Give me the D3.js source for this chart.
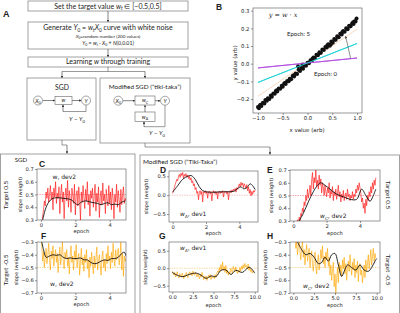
<!DOCTYPE html>
<html>
<head>
<meta charset="utf-8">
<script src="https://cdn.jsdelivr.net/npm/d3@7"></script>
<style>
body { margin: 0; background: #fff; }
svg { display: block; }
text { font-family: "DejaVu Sans", sans-serif; fill: #222; }
.flow text { font-family: Lato, "Open Sans", sans-serif; }
</style>
</head>
<body>
<script>
// ---- panel B: regression data ----
const bTicksX = [-1, -0.5, 0, 0.5, 1]
const bTicksY = [-0.2, -0.1, 0, 0.1, 0.2, 0.3]
const pointsX = [-1.00,-0.98,-0.95,-0.93,-0.90,-0.87,-0.85,-0.82,-0.80,-0.77,-0.74,-0.72,-0.69,-0.66,-0.64,-0.61,-0.58,-0.55,-0.52,-0.50,-0.47,-0.44,-0.41,-0.38,-0.36,-0.33,-0.30,-0.27,-0.24,-0.21,-0.18,-0.15,-0.12,-0.09,-0.06,-0.03,0.00,0.03,0.06,0.09,0.12,0.15,0.18,0.21,0.24,0.27,0.30,0.33,0.36,0.39,0.42,0.45,0.48,0.51,0.54,0.57,0.60,0.63,0.66,0.69,0.72,0.75,0.78,0.81,0.84,0.87,0.90,0.93,0.95,0.97,0.99,-0.19,-0.10,0.47,-0.96,-0.78,-0.62,-0.45,-0.28,0.10,0.25,0.40,0.55,0.70,0.85,0.92]
const pointsY = [-0.245,-0.252,-0.232,-0.240,-0.221,-0.225,-0.205,-0.210,-0.195,-0.200,-0.180,-0.187,-0.168,-0.170,-0.155,-0.158,-0.140,-0.142,-0.125,-0.130,-0.112,-0.115,-0.098,-0.100,-0.085,-0.088,-0.070,-0.072,-0.055,-0.058,-0.035,-0.042,-0.025,-0.028,-0.010,-0.012,0.005,0.003,0.020,0.018,0.035,0.032,0.050,0.048,0.065,0.062,0.080,0.078,0.095,0.092,0.110,0.102,0.125,0.118,0.140,0.135,0.155,0.150,0.170,0.165,0.185,0.180,0.200,0.195,0.215,0.212,0.228,0.225,0.240,0.238,0.255,-0.015,-0.005,0.108,-0.236,-0.198,-0.150,-0.108,-0.066,0.028,0.060,0.104,0.136,0.178,0.210,0.234]
const fitSlopes = [0.028, 0.11, 0.19, 0.25]
const fitOffsets = [0.004, 0.004, 0.006, 0.0]
const arrowFrom = [0.87, 0.03]
const arrowTo = [0.77, 0.155]

// ---- panels C-H: weight traces (5 epochs: step 0.05, 10 epochs: step 0.1) ----
const ticks5 = [0, 2, 4]
const ticks10 = [0, 2.5, 5, 7.5, 10]

const cRed = [0.22,0.28,0.33,0.38,0.45,0.41,0.52,0.47,0.55,0.44,
  0.50,0.57,0.46,0.52,0.38,0.55,0.48,0.60,0.43,0.51,
  0.47,0.56,0.35,0.50,0.58,0.44,0.52,0.31,0.49,0.55,
  0.45,0.61,0.40,0.53,0.47,0.36,0.55,0.50,0.43,0.58,
  0.34,0.49,0.53,0.41,0.56,0.46,0.30,0.52,0.44,0.57,
  0.48,0.39,0.54,0.45,0.60,0.42,0.50,0.33,0.53,0.47,
  0.55,0.40,0.49,0.58,0.37,0.51,0.44,0.56,0.32,0.48,
  0.53,0.42,0.59,0.45,0.50,0.35,0.54,0.46,0.41,0.57,
  0.43,0.52,0.38,0.55,0.47,0.31,0.50,0.44,0.58,0.40,
  0.53,0.46,0.36,0.54,0.42,0.49,0.56,0.43,0.47,0.45]
const cSmooth = [[0.1,0.30],[0.25,0.38],[0.45,0.44],[0.7,0.47],[1.0,0.475],[1.3,0.47],[1.6,0.465],[1.8,0.455],[2.0,0.43],[2.15,0.42],[2.35,0.44],[2.6,0.45],[2.9,0.44],[3.1,0.435],[3.3,0.43],[3.5,0.42],[3.7,0.43],[3.9,0.435],[4.1,0.42],[4.3,0.425],[4.5,0.42],[4.7,0.44],[4.9,0.45]]

const fOrange = [-0.28,-0.33,-0.45,-0.38,-0.50,-0.42,-0.35,-0.47,-0.40,-0.31,
  -0.44,-0.52,-0.37,-0.43,-0.33,-0.49,-0.41,-0.36,-0.46,-0.39,
  -0.54,-0.42,-0.34,-0.48,-0.40,-0.30,-0.45,-0.51,-0.38,-0.43,
  -0.36,-0.49,-0.42,-0.55,-0.40,-0.33,-0.46,-0.41,-0.52,-0.37,
  -0.44,-0.32,-0.50,-0.43,-0.39,-0.56,-0.45,-0.35,-0.48,-0.42,
  -0.53,-0.40,-0.46,-0.36,-0.51,-0.44,-0.58,-0.42,-0.49,-0.38,
  -0.47,-0.55,-0.41,-0.50,-0.43,-0.34,-0.52,-0.45,-0.40,-0.48,
  -0.56,-0.42,-0.37,-0.50,-0.44,-0.53,-0.39,-0.47,-0.33,-0.45,
  -0.41,-0.51,-0.38,-0.46,-0.31,-0.43,-0.49,-0.36,-0.44,-0.40,
  -0.35,-0.48,-0.42,-0.30,-0.52,-0.39,-0.57,-0.41,-0.45,-0.43]
const fSmooth = [[0.05,-0.30],[0.15,-0.36],[0.3,-0.42],[0.5,-0.41],[0.7,-0.40],[0.9,-0.405],[1.1,-0.40],[1.3,-0.42],[1.5,-0.43],[1.7,-0.425],[1.9,-0.43],[2.1,-0.43],[2.3,-0.425],[2.5,-0.44],[2.7,-0.44],[2.9,-0.46],[3.1,-0.47],[3.3,-0.465],[3.5,-0.45],[3.7,-0.44],[3.9,-0.445],[4.1,-0.43],[4.3,-0.43],[4.5,-0.42],[4.7,-0.39],[4.85,-0.38],[4.95,-0.41]]

const dRed = [0.05,0.12,0.20,0.28,0.35,0.42,0.38,0.50,0.55,0.47,
  0.58,0.52,0.60,0.45,0.55,0.50,0.57,0.48,0.53,0.44,
  0.50,0.40,0.46,0.33,0.38,0.25,0.30,0.15,0.20,0.05,
  0.10,-0.12,0.08,0.12,0.02,0.10,-0.18,0.09,0.06,0.12,
  0.04,0.10,-0.08,0.08,0.11,0.03,0.09,-0.15,0.07,0.12,
  0.05,0.10,0.02,0.09,-0.10,0.08,0.11,0.04,0.10,0.06,
  0.12,-0.05,0.09,0.07,0.11,0.03,0.10,-0.12,0.08,0.12,
  0.06,0.14,0.10,0.16,0.12,0.18,0.08,0.20,0.15,0.24,
  0.30,0.22,0.34,0.26,0.32,0.20,0.30,0.25,0.18,0.28,
  0.12,0.22,0.05,0.15,-0.02,0.10,0.02,0.12,0.08,0.14]
const dSmooth = [[0,0.08],[0.3,0.25],[0.6,0.42],[0.9,0.5],[1.1,0.52],[1.3,0.45],[1.5,0.3],[1.7,0.16],[1.9,0.1],[2.2,0.08],[2.6,0.08],[3.0,0.09],[3.4,0.09],[3.7,0.11],[3.9,0.18],[4.1,0.22],[4.25,0.17],[4.45,0.2],[4.65,0.3],[4.8,0.25],[4.95,0.15]]

const eRed = [0.25,0.28,0.22,0.30,0.26,0.31,0.27,0.33,0.30,0.36,
  0.34,0.40,0.37,0.45,0.42,0.50,0.46,0.55,0.48,0.52,
  0.58,0.50,0.62,0.68,0.55,0.64,0.60,0.70,0.57,0.62,
  0.55,0.66,0.58,0.63,0.52,0.60,0.56,0.50,0.58,0.53,
  0.49,0.56,0.52,0.60,0.48,0.54,0.51,0.57,0.46,0.53,
  0.50,0.55,0.47,0.52,0.58,0.49,0.53,0.45,0.51,0.48,
  0.54,0.46,0.50,0.52,0.47,0.55,0.49,0.51,0.46,0.50,
  0.48,0.53,0.47,0.51,0.49,0.55,0.52,0.58,0.54,0.60,
  0.56,0.52,0.45,0.48,0.40,0.44,0.36,0.47,0.42,0.50,
  0.46,0.53,0.49,0.57,0.52,0.60,0.55,0.62,0.58,0.64]
const eSmooth = [[0.3,0.29],[0.6,0.36],[0.9,0.45],[1.2,0.53],[1.45,0.58],[1.65,0.6],[1.9,0.58],[2.2,0.55],[2.6,0.51],[3.0,0.49],[3.4,0.47],[3.8,0.47],[4.1,0.55],[4.35,0.5],[4.6,0.455],[4.8,0.5],[4.95,0.55]]

const gOrange = [-0.08,-0.15,-0.20,-0.12,-0.25,-0.18,-0.10,-0.22,-0.28,-0.16,
  -0.20,-0.26,-0.14,-0.22,-0.30,-0.19,-0.24,-0.12,-0.21,-0.27,
  -0.15,-0.10,-0.18,-0.13,-0.22,-0.08,-0.16,-0.20,-0.12,-0.18,
  -0.25,-0.15,-0.22,-0.30,-0.18,-0.26,-0.12,-0.20,-0.33,-0.24,
  -0.30,-0.22,-0.35,-0.26,-0.20,-0.28,-0.18,-0.32,-0.24,-0.27,
  -0.22,-0.30,-0.18,-0.26,-0.15,-0.08,-0.12,0.02,-0.10,0.10,
  -0.04,0.18,-0.06,0.05,-0.12,0.08,-0.15,-0.05,-0.20,-0.10,
  -0.16,0.00,-0.08,-0.14,0.05,-0.02,-0.10,0.04,-0.08,-0.15,
  -0.05,-0.12,0.02,-0.09,0.06,-0.03,0.10,0.00,0.14,0.04,
  0.08,-0.02,0.12,-0.06,0.03,-0.10,-0.04,-0.14,-0.08,-0.12]
const gSmooth = [[0,-0.12],[0.6,-0.2],[1.3,-0.24],[2.0,-0.18],[2.9,-0.14],[3.5,-0.2],[4.1,-0.29],[4.7,-0.22],[5.3,-0.24],[5.9,-0.06],[6.5,-0.05],[7.1,-0.18],[7.7,-0.06],[8.5,-0.12],[9.3,0.03],[9.7,-0.04],[10,-0.14]]

const hOrange = [-0.22,-0.30,-0.26,-0.35,-0.30,-0.40,-0.33,-0.28,-0.38,-0.44,
  -0.34,-0.30,-0.42,-0.36,-0.48,-0.38,-0.32,-0.45,-0.40,-0.35,
  -0.50,-0.42,-0.37,-0.47,-0.53,-0.44,-0.38,-0.49,-0.55,-0.45,
  -0.40,-0.52,-0.46,-0.36,-0.43,-0.33,-0.47,-0.41,-0.50,-0.38,
  -0.44,-0.35,-0.49,-0.42,-0.56,-0.48,-0.60,-0.52,-0.46,-0.65,
  -0.55,-0.70,-0.58,-0.50,-0.62,-0.46,-0.54,-0.48,-0.57,-0.44,
  -0.51,-0.42,-0.55,-0.47,-0.60,-0.50,-0.45,-0.53,-0.40,-0.49,
  -0.56,-0.46,-0.52,-0.43,-0.58,-0.48,-0.54,-0.45,-0.61,-0.50,
  -0.47,-0.56,-0.52,-0.62,-0.55,-0.48,-0.58,-0.44,-0.53,-0.47,
  -0.40,-0.51,-0.44,-0.36,-0.48,-0.41,-0.35,-0.45,-0.39,-0.43]
const hSmooth = [[0.5,-0.30],[1.0,-0.36],[1.5,-0.40],[2.0,-0.39],[2.5,-0.42],[3.0,-0.47],[3.4,-0.46],[3.8,-0.42],[4.2,-0.45],[4.6,-0.40],[5.0,-0.39],[5.4,-0.48],[5.8,-0.57],[6.1,-0.53],[6.5,-0.48],[7.0,-0.50],[7.5,-0.52],[8.0,-0.48],[8.5,-0.52],[9.0,-0.53],[9.4,-0.50],[9.8,-0.45],[10,-0.43]]

const width = 400
const height = 313
const RED = '#ff1010'
const ORANGE = '#ffa500'
const fitColors = ['#b34fe0', '#22d3d6', '#f7bf93', '#d42a1e']

const svg = d3.select('body').append('svg')
  .attr('width', width)
  .attr('height', height)

const defs = svg.append('defs')
defs.append('marker')
  .attr('id', 'arr')
  .attr('viewBox', '0 0 10 10')
  .attr('refX', 9).attr('refY', 5)
  .attr('markerWidth', 4).attr('markerHeight', 4)
  .attr('orient', 'auto')
  .append('path').attr('d', 'M0,0L10,5L0,10z').attr('fill', '#333')

// text with italic / subscript pieces
const rich = (g, x, y, parts, size, anchor) => {
  const t = g.append('text')
    .attr('x', x).attr('y', y)
    .attr('font-size', size)
    .attr('text-anchor', anchor || 'middle')
  let shift = 0
  parts.forEach(p => {
    const flags = p[1] || ''
    const s = t.append('tspan').text(p[0])
    const want = flags.includes('s') ? size * 0.25 : 0
    if (want !== shift) { s.attr('dy', want - shift); shift = want }
    if (flags.includes('s')) s.attr('font-size', size * 0.68)
    if (flags.includes('i')) s.attr('font-style', 'italic')
  })
  return t
}

// ---------------- panel A: flow chart ----------------
const flow = svg.append('g').attr('class', 'flow')
const box = (x, y, w, h) => flow.append('rect')
  .attr('x', x).attr('y', y).attr('width', w).attr('height', h)
  .attr('fill', '#fff').attr('stroke', '#8a8a8a').attr('stroke-width', 0.8)
const arrow = (pts) => flow.append('path')
  .attr('d', d3.line()(pts))
  .attr('fill', 'none').attr('stroke', '#333').attr('stroke-width', 0.6)
  .attr('marker-end', 'url(#arr)')
const seg = (pts) => flow.append('path')
  .attr('d', d3.line()(pts))
  .attr('fill', 'none').attr('stroke', '#555').attr('stroke-width', 0.6)

// outer group boxes for lower panels
svg.append('rect').attr('x', 0.5).attr('y', 154).attr('width', 134.5).attr('height', 170)
  .attr('fill', 'none').attr('stroke', '#8a8a8a').attr('stroke-width', 0.8)
svg.append('rect').attr('x', 140).attr('y', 155).attr('width', 259.5).attr('height', 170)
  .attr('fill', 'none').attr('stroke', '#8a8a8a').attr('stroke-width', 0.8)

flow.append('text').attr('x', 3).attr('y', 17).attr('font-size', 9)
  .attr('font-weight', 'bold').style('font-family', 'Liberation Sans, Arial, sans-serif').text('A')

box(28, 1, 160, 10)
rich(flow, 108, 8.5, [['Set the target value '], ['w', 'i'], ['t', 'si'], [' ∈ [−0.5,0.5]']], 7)
arrow([[108, 11], [108, 22]])

box(28, 22, 160, 27)
rich(flow, 108, 29.8, [['Generate '], ['Y', 'i'], ['0', 's'], [' = '], ['w', 'i'], ['t', 'si'], ['X', 'i'], ['0', 's'], [' curve with white noise']], 7)
rich(flow, 108, 37.6, [['X', 'i'], ['0', 's'], ['=random number (200 values)']], 4.6)
rich(flow, 108, 44.6, [['Y', 'i'], ['0', 's'], [' = '], ['w', 'i'], ['t', 'si'], [' · '], ['X', 'i'], ['0', 's'], [' + '], ['N', 'i'], ['(0,0.01)']], 5.2)
arrow([[108, 49], [108, 57]])

box(28, 57, 160, 10)
rich(flow, 108, 64.4, [['Learning '], ['w', 'i'], [' through training']], 7)
seg([[108, 67], [108, 71.5]])
seg([[62, 71.5], [145, 71.5]])
arrow([[62, 71.5], [62, 78]])
arrow([[145, 71.5], [145, 78]])

// SGD box
box(27, 78, 69, 62)
flow.append('text').attr('x', 62).attr('y', 89.5).attr('font-size', 6.8).attr('text-anchor', 'middle').text('SGD')
const node = (cx, cy, parts) => {
  flow.append('circle').attr('cx', cx).attr('cy', cy).attr('r', 4.5)
    .attr('fill', '#fff').attr('stroke', '#666').attr('stroke-width', 0.6)
  rich(flow, cx, cy + 2, parts, 5.5)
}
const wbox = (x, y, w, h, parts) => {
  flow.append('rect').attr('x', x).attr('y', y).attr('width', w).attr('height', h)
    .attr('fill', '#fff').attr('stroke', '#666').attr('stroke-width', 0.6)
  rich(flow, x + w / 2, y + h / 2 + 1.8, parts, 5.3)
}
arrow([[42.5, 100.5], [55, 100.5]])
arrow([[72, 100.5], [81.3, 100.5]])
node(38, 100.5, [['X', 'i'], ['0', 's']])
wbox(55, 96.5, 17, 8, [['w', 'i']])
node(86, 100.5, [['Y', 'i']])
seg([[86, 105], [86, 111.5], [63, 111.5]])
arrow([[63, 111.5], [63, 104.8]])
rich(flow, 77, 121, [['Y', 'i'], [' − '], ['Y', 'i'], ['0', 's']], 6)

// Modified SGD box
box(100, 78, 90, 65)
flow.append('text').attr('x', 145).attr('y', 89).attr('font-size', 6.4).attr('text-anchor', 'middle').text('Modified SGD (“tiki-taka”)')
arrow([[122.8, 100.7], [135, 100.7]])
arrow([[155, 100.7], [160.3, 100.7]])
node(118.3, 100.7, [['X', 'i'], ['0', 's']])
wbox(135, 96, 20, 9, [['w', 'i'], ['C', 's']])
node(165, 100.7, [['Y', 'i']])
wbox(135, 112, 20, 9.5, [['w', 'i'], ['A', 's']])
arrow([[145, 112], [145, 105.2]])
seg([[165, 105.2], [165, 126.7], [144, 126.7]])
arrow([[144, 126.7], [144, 121.8]])
rich(flow, 157, 135, [['Y', 'i'], [' − '], ['Y', 'i'], ['0', 's']], 6)

// connectors to lower groups
seg([[62, 140], [62, 145], [67, 145]])
arrow([[67, 145], [67, 153.5]])
seg([[145, 143], [145, 147], [270, 147]])
arrow([[270, 147], [270, 154.5]])

// ---------------- panel B ----------------
const bBox = { x0: 253, x1: 362, y0: 8, y1: 113 }
const bx = d3.scaleLinear().domain([-1.1, 1.1]).range([bBox.x0, bBox.x1])
const by = d3.scaleLinear().domain([-0.279, 0.315]).range([bBox.y1, bBox.y0])

const styleAxis = (sel, size) => {
  sel.select('.domain').remove()
  sel.selectAll('.tick line').attr('stroke', '#333').attr('stroke-width', 0.5)
  sel.selectAll('.tick text').attr('font-size', size).attr('fill', '#222')
    .style('font-family', '"DejaVu Sans", sans-serif')
}

svg.append('text').attr('x', 216).attr('y', 10).attr('font-size', 8.5)
  .attr('font-weight', 'bold').style('font-family', 'Liberation Sans, Arial, sans-serif').text('B')

svg.append('g').attr('transform', `translate(0,${bBox.y1})`)
  .call(d3.axisBottom(bx).tickValues(bTicksX).tickFormat(d3.format('.1f')).tickSize(2).tickPadding(1.5))
  .call(styleAxis, 5.3)
svg.append('g').attr('transform', `translate(${bBox.x0},0)`)
  .call(d3.axisLeft(by).tickValues(bTicksY).tickFormat(d3.format('.1f')).tickSize(2).tickPadding(1.5))
  .call(styleAxis, 5.3)

svg.append('clipPath').attr('id', 'clipB').append('rect')
  .attr('x', bBox.x0).attr('y', bBox.y0).attr('width', bBox.x1 - bBox.x0).attr('height', bBox.y1 - bBox.y0)
const bPlot = svg.append('g').attr('clip-path', 'url(#clipB)')

bPlot.append('g').selectAll('line')
  .data(fitSlopes)
  .enter()
  .append('line')
  .attr('x1', bx(-1)).attr('x2', bx(1))
  .attr('y1', (d, i) => by(-d + fitOffsets[i]))
  .attr('y2', (d, i) => by(d + fitOffsets[i]))
  .attr('stroke', (d, i) => fitColors[i])
  .attr('stroke-width', (d, i) => i === 2 ? 0.6 : 0.9)

bPlot.append('g').selectAll('circle')
  .data(pointsX)
  .enter()
  .append('circle')
  .attr('cx', d => bx(d))
  .attr('cy', (d, i) => by(pointsY[i]))
  .attr('r', 2)
  .attr('fill', '#111')

// purple and cyan lines sit above the dots
bPlot.append('g').selectAll('line')
  .data(fitSlopes.slice(0, 2))
  .enter()
  .append('line')
  .attr('x1', bx(-1)).attr('x2', bx(1))
  .attr('y1', (d, i) => by(-d + fitOffsets[i]))
  .attr('y2', (d, i) => by(d + fitOffsets[i]))
  .attr('stroke', (d, i) => fitColors[i])
  .attr('stroke-width', 0.9)

bPlot.append('line')
  .attr('x1', bx(arrowFrom[0])).attr('y1', by(arrowFrom[1]))
  .attr('x2', bx(arrowTo[0])).attr('y2', by(arrowTo[1]))
  .attr('stroke', '#444').attr('stroke-width', 0.6)
  .attr('marker-end', 'url(#arr)')

svg.append('rect').attr('x', bBox.x0).attr('y', bBox.y0)
  .attr('width', bBox.x1 - bBox.x0).attr('height', bBox.y1 - bBox.y0)
  .attr('fill', 'none').attr('stroke', '#555').attr('stroke-width', 0.6)

svg.append('text').attr('x', 283).attr('y', 17).attr('font-size', 6.5).attr('text-anchor', 'middle')
  .style('font-family', '"DejaVu Serif", serif').attr('font-style', 'italic').text('y = w · x')
svg.append('text').attr('x', 298.5).attr('y', 35.5).attr('font-size', 6).attr('text-anchor', 'middle')
  .style('font-family', 'Lato, sans-serif').text('Epoch: 5')
svg.append('text').attr('x', 325.5).attr('y', 75.5).attr('font-size', 6).attr('text-anchor', 'middle')
  .style('font-family', 'Lato, sans-serif').text('Epoch: 0')
svg.append('text').attr('x', 307).attr('y', 132).attr('font-size', 5.5).attr('text-anchor', 'middle').text('x value (arb)')
svg.append('text').attr('transform', 'translate(237,63) rotate(-90)').attr('font-size', 5.5)
  .attr('text-anchor', 'middle').text('y value (arb)')

// ---------------- panels C-H ----------------
let clipN = 0
const drawPanel = (cfg) => {
  const b = cfg.box
  const x = d3.scaleLinear().domain(cfg.xDom).range([b.x0, b.x1])
  const y = d3.scaleLinear().domain(cfg.yDom).range([b.y1, b.y0])
  const xFmt = cfg.xTicks.length > 3 ? d3.format('.1f') : d3.format('d')

  svg.append('g').attr('transform', `translate(0,${b.y1})`)
    .call(d3.axisBottom(x).tickValues(cfg.xTicks).tickFormat(xFmt).tickSize(2).tickPadding(1.2))
    .call(styleAxis, 5.2)
  svg.append('g').attr('transform', `translate(${b.x0},0)`)
    .call(d3.axisLeft(y).tickValues(cfg.yTicks).tickFormat(d3.format('.1f')).tickSize(2).tickPadding(1.2))
    .call(styleAxis, 5.2)

  const id = 'clip' + (clipN++)
  svg.append('clipPath').attr('id', id).append('rect')
    .attr('x', b.x0).attr('y', b.y0).attr('width', b.x1 - b.x0).attr('height', b.y1 - b.y0)
  const plot = svg.append('g').attr('clip-path', `url(#${id})`)

  plot.append('line')
    .attr('x1', b.x0).attr('x2', b.x1)
    .attr('y1', y(cfg.target)).attr('y2', y(cfg.target))
    .attr('stroke', cfg.targetColor).attr('stroke-width', 0.6).attr('stroke-dasharray', '1.5,1')

  plot.append('path')
    .datum(cfg.raw)
    .attr('d', d3.line().x((d, i) => x(i * cfg.step)).y(d => y(d)))
    .attr('fill', 'none').attr('stroke', cfg.color).attr('stroke-width', 0.7).attr('opacity', 0.9)

  plot.append('path')
    .datum(cfg.smooth)
    .attr('d', d3.line().curve(d3.curveCatmullRom).x(d => x(d[0])).y(d => y(d[1])))
    .attr('fill', 'none').attr('stroke', '#111').attr('stroke-width', 0.9)

  svg.append('rect').attr('x', b.x0).attr('y', b.y0)
    .attr('width', b.x1 - b.x0).attr('height', b.y1 - b.y0)
    .attr('fill', 'none').attr('stroke', '#555').attr('stroke-width', 0.6)

  svg.append('text').attr('x', (b.x0 + b.x1) / 2).attr('y', cfg.epochY).attr('font-size', 5.2)
    .attr('text-anchor', 'middle').text('epoch')
  svg.append('text').attr('transform', `translate(${cfg.ylabX},${(b.y0 + b.y1) / 2}) rotate(-90)`)
    .attr('font-size', 5).attr('text-anchor', 'middle').text('slope (weight)')
  svg.append('text').attr('x', cfg.letter[0]).attr('y', cfg.letter[1]).attr('font-size', 8.5)
    .attr('font-weight', 'bold').style('font-family', 'Liberation Sans, Arial, sans-serif').text(cfg.name)
  rich(svg, cfg.note[0], cfg.note[1], cfg.noteParts, 6, 'start')
}

drawPanel({ name: 'C', box: { x0: 37, x1: 126, y0: 169, y1: 220 }, xDom: [-0.23, 4.95], yDom: [0.3, 0.7],
  xTicks: ticks5, yTicks: [0.3, 0.4, 0.5, 0.6, 0.7], raw: cRed, step: 0.05, smooth: cSmooth,
  color: RED, target: 0.5, targetColor: '#f07070', epochY: 233, ylabX: 22, letter: [39, 167],
  note: [52.5, 179], noteParts: [['w, dev2']] })
drawPanel({ name: 'F', box: { x0: 37, x1: 126, y0: 242, y1: 293 }, xDom: [-0.23, 4.95], yDom: [-0.7, -0.3],
  xTicks: ticks5, yTicks: [-0.7, -0.6, -0.5, -0.4, -0.3], raw: fOrange, step: 0.05, smooth: fSmooth,
  color: ORANGE, target: -0.5, targetColor: '#f0c060', epochY: 306, ylabX: 18, letter: [41, 239],
  note: [50, 286], noteParts: [['w, dev2']] })
drawPanel({ name: 'D', box: { x0: 169, x1: 258, y0: 171, y1: 222 }, xDom: [-0.22, 5.12], yDom: [-0.71, 0.64],
  xTicks: ticks5, yTicks: [-0.5, 0, 0.5], raw: dRed, step: 0.05, smooth: dSmooth,
  color: RED, target: 0, targetColor: '#f0a0a0', epochY: 235, ylabX: 148, letter: [160, 173],
  note: [180, 216], noteParts: [['w', 'i'], ['A', 's'], [', dev1']] })
drawPanel({ name: 'G', box: { x0: 169, x1: 258, y0: 242, y1: 292 }, xDom: [-0.4, 10.4], yDom: [-0.68, 0.75],
  xTicks: ticks10, yTicks: [-0.5, 0, 0.5], raw: gOrange, step: 0.1, smooth: gSmooth,
  color: ORANGE, target: 0, targetColor: '#f0c060', epochY: 307, ylabX: 147, letter: [159, 239],
  note: [180, 250], noteParts: [['w', 'i'], ['A', 's'], [', dev1']] })
drawPanel({ name: 'E', box: { x0: 290, x1: 380, y0: 170, y1: 221 }, xDom: [-0.2, 5.2], yDom: [0.3, 0.7],
  xTicks: ticks5, yTicks: [0.3, 0.4, 0.5, 0.6, 0.7], raw: eRed, step: 0.05, smooth: eSmooth,
  color: RED, target: 0.5, targetColor: '#f07070', epochY: 235, ylabX: 273, letter: [267, 173],
  note: [320, 218], noteParts: [['w', 'i'], ['C', 's'], [', dev2']] })
drawPanel({ name: 'H', box: { x0: 290, x1: 380, y0: 242, y1: 293 }, xDom: [-0.4, 10.4], yDom: [-0.7, -0.3],
  xTicks: ticks10, yTicks: [-0.7, -0.6, -0.5, -0.4, -0.3], raw: hOrange, step: 0.1, smooth: hSmooth,
  color: ORANGE, target: -0.5, targetColor: '#f0c060', epochY: 307, ylabX: 267, letter: [267, 239],
  note: [303, 288], noteParts: [['w', 'i'], ['C', 's'], [', dev2']] })

// group titles and row labels
svg.append('text').attr('x', 21).attr('y', 162).attr('font-size', 6.2).attr('text-anchor', 'middle')
  .style('font-family', 'Lato, sans-serif').text('SGD')
svg.append('text').attr('x', 143).attr('y', 164).attr('font-size', 6.4)
  .style('font-family', 'Lato, sans-serif').text('Modified SGD (“Tiki-Taka”)')
const rowLabel = (x, y, rot, txt) => svg.append('text')
  .attr('transform', `translate(${x},${y}) rotate(${rot})`)
  .attr('font-size', 6.5).attr('text-anchor', 'middle')
  .style('font-family', 'Lato, sans-serif').text(txt)
rowLabel(8, 195, -90, 'Target 0.5')
rowLabel(8, 270, -90, 'Target -0.5')
rowLabel(386, 195, 90, 'Target 0.5')
rowLabel(386, 270, 90, 'Target -0.5')
</script>
</body>
</html>
